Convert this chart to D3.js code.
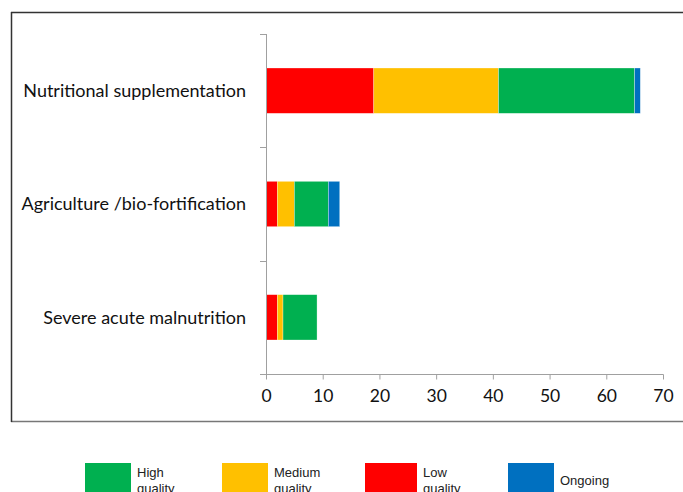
<!DOCTYPE html>
<html><head><meta charset="utf-8">
<script src="https://cdn.jsdelivr.net/npm/d3@7"></script>
<style>body{margin:0;background:#fff;}svg{display:block;}</style>
</head><body>
<script>
const categories = ["Nutritional supplementation", "Agriculture /bio-fortification", "Severe acute malnutrition"];
const seriesNames = ["Low quality", "Medium quality", "High quality", "Ongoing"];
const lowQuality = [19, 2, 2];
const mediumQuality = [22, 3, 1];
const highQuality = [24, 6, 6];
const ongoing = [1, 2, 0];
const xTicks = [0, 10, 20, 30, 40, 50, 60, 70];
const legendItems = [
  {key: "High quality", lines: ["High", "quality"]},
  {key: "Medium quality", lines: ["Medium", "quality"]},
  {key: "Low quality", lines: ["Low", "quality"]},
  {key: "Ongoing", lines: ["Ongoing"]}
];
const colors = {"Low quality": "#FF0000", "Medium quality": "#FFC000", "High quality": "#00B050", "Ongoing": "#0070C0"};

const W = 683, H = 492;
const svg = d3.select("body").append("svg").attr("width", W).attr("height", H);

// frame
svg.append("line").attr("x1", 11).attr("x2", 700).attr("y1", 12.5).attr("y2", 12.5).attr("stroke", "#333").attr("stroke-width", 1.5);
svg.append("line").attr("x1", 11).attr("x2", 700).attr("y1", 421.5).attr("y2", 421.5).attr("stroke", "#777").attr("stroke-width", 1.5);
svg.append("line").attr("x1", 11.5).attr("x2", 11.5).attr("y1", 12).attr("y2", 422).attr("stroke", "#333").attr("stroke-width", 1.5);

const x = d3.scaleLinear().domain([0, 70]).range([266, 663]);
const y = d3.scaleBand().domain(categories).range([34, 374]).paddingInner(0.6).paddingOuter(0.3);

const rows = categories.map((c, i) => ({cat: c, "Low quality": lowQuality[i], "Medium quality": mediumQuality[i], "High quality": highQuality[i], "Ongoing": ongoing[i]}));
const stack = d3.stack().keys(seriesNames)(rows);

svg.append("g").selectAll("g").data(stack).join("g")
  .attr("fill", d => colors[d.key])
  .selectAll("rect").data(d => d).join("rect")
  .attr("x", d => x(d[0])).attr("width", d => x(d[1]) - x(d[0]))
  .attr("y", d => y(d.data.cat)).attr("height", y.bandwidth())
  .attr("stroke", "rgba(255,255,255,0.5)").attr("stroke-width", 0.6);

// x axis
const gx = svg.append("g").attr("transform", "translate(0,374.5)")
  .call(d3.axisBottom(x).tickValues(xTicks).tickSize(5).tickSizeOuter(0).tickPadding(10));
gx.select(".domain").attr("stroke", "#a0a0a0").attr("d", "M261,0H663.5");
gx.selectAll(".tick line").attr("stroke", "#a0a0a0");
gx.selectAll("text").attr("font-family", "Lato, 'Open Sans', sans-serif").attr("font-size", 17.5).attr("fill", "#111");

// y axis
const catBoundaries = [34, 147.3, 260.7, 374];
const gy = svg.append("g");
gy.append("line").attr("x1", 266.5).attr("x2", 266.5).attr("y1", 34).attr("y2", 374).attr("stroke", "#a0a0a0");
gy.selectAll("line.tk").data(catBoundaries).join("line").attr("class", "tk")
  .attr("x1", 260).attr("x2", 266.5).attr("y1", d => Math.round(d) + 0.5).attr("y2", d => Math.round(d) + 0.5).attr("stroke", "#a0a0a0");
gy.selectAll("text").data(categories).join("text")
  .attr("x", 246).attr("y", d => y(d) + y.bandwidth() / 2).attr("dy", "0.35em")
  .attr("text-anchor", "end").attr("font-family", "Lato, 'Open Sans', sans-serif").attr("font-size", 18).attr("fill", "#111")
  .text(d => d);

// legend
const legendX = [85, 222, 365, 508];
const lg = svg.append("g").selectAll("g").data(legendItems).join("g")
  .attr("transform", (d, i) => `translate(${legendX[i]},463)`);
lg.append("rect").attr("width", (d, i) => i === 2 ? 52 : 46).attr("height", 40).attr("fill", d => colors[d.key]);
lg.append("text").attr("font-family", "'Liberation Sans', Arial, sans-serif").attr("font-size", 13).attr("fill", "#222")
  .attr("x", (d, i) => (i === 2 ? 52 : 46) + 6)
  .selectAll("tspan").data(d => d.lines.map(l => ({l, n: d.lines.length}))).join("tspan")
  .attr("x", function() { return d3.select(this.parentNode).attr("x"); })
  .attr("y", (d, i) => d.n === 1 ? 22 : 14 + i * 16)
  .text(d => d.l);
</script>
</body></html>
